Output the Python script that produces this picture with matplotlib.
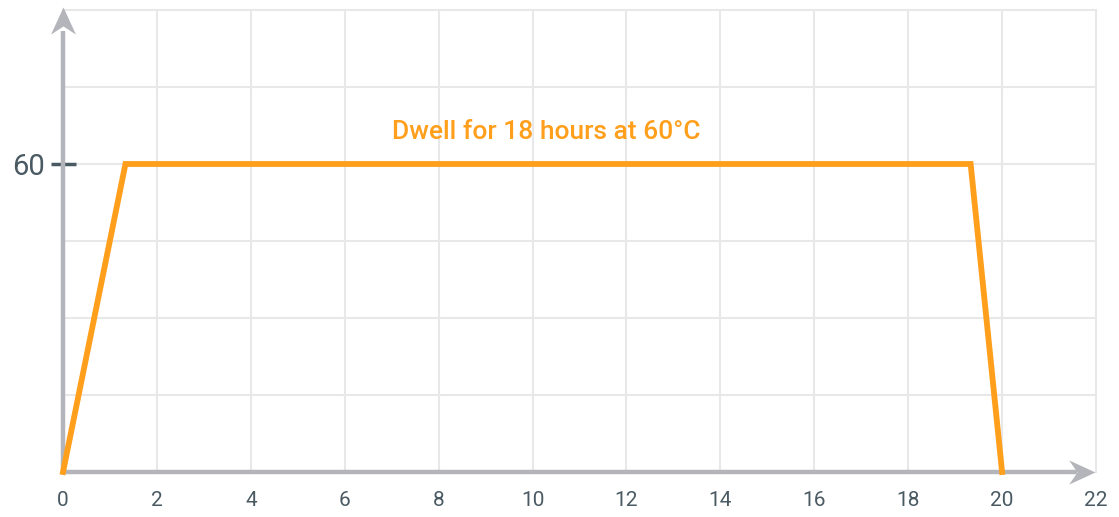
import matplotlib
matplotlib.use("Agg")
import matplotlib.pyplot as plt
from matplotlib.path import Path

# temperature profile: hours vs degrees C
hours = [0, 1.33, 19.33, 20]
temps = [0, 60, 60, 0]

x_ticks = [0, 2, 4, 6, 8, 10, 12, 14, 16, 18, 20, 22]
y_grid = [15, 30, 45, 60, 75, 90]
y_ticks = [60]
label = "Dwell for 18 hours at 60°C"

orange = "#ff9f1c"
axis_gray = "#b3b5ba"
text_dark = "#4a5a63"

plt.rcParams['font.family'] = ['Roboto', 'DejaVu Sans']

fig = plt.figure(figsize=(11.19, 5.17), dpi=100)
ax = fig.add_axes([63 / 1119, 45 / 517, 1033 / 1119, 462 / 517])
ax.set_xlim(0, 22)
ax.set_ylim(0, 90)

for s in ax.spines.values():
    s.set_visible(False)

# grid
for x in x_ticks[1:]:
    ax.plot([x, x], [0, 90], color="#e8e8e8", lw=1.5, zorder=1, clip_on=False)
for y in y_grid:
    ax.plot([0, 22], [y, y], color="#e8e8e8", lw=1.5, zorder=1, clip_on=False)

# notched arrow heads (tip at origin)
head_right = Path([(0, 0), (-1, 0.46), (-0.68, 0), (-1, -0.46), (0, 0)],
                  [Path.MOVETO, Path.LINETO, Path.LINETO, Path.LINETO, Path.CLOSEPOLY])
head_up = Path([(0, 0), (0.46, -1), (0, -0.7), (-0.46, -1), (0, 0)],
               [Path.MOVETO, Path.LINETO, Path.LINETO, Path.LINETO, Path.CLOSEPOLY])

ax.plot([0, 21.6], [0, 0], color=axis_gray, lw=3.2, zorder=2, clip_on=False,
        solid_capstyle="butt")
ax.plot([0, 0], [0, 86], color=axis_gray, lw=3.2, zorder=2, clip_on=False,
        solid_capstyle="butt")
ax.plot([21.97], [0], marker=head_right, ms=38, color=axis_gray, mew=0,
        zorder=2, clip_on=False)
ax.plot([0], [90.5], marker=head_up, ms=39, color=axis_gray, mew=0,
        zorder=2, clip_on=False)

ax.plot(hours, temps, color=orange, lw=4.2, zorder=3, clip_on=False,
        solid_joinstyle="miter")

ax.text(10.3, 66.3, label, color=orange, fontsize=19, ha="center", va="center",
        fontweight="medium")

ax.set_xticks(x_ticks)
ax.set_xticklabels([str(v) for v in x_ticks])
ax.set_yticks(y_ticks)
ax.set_yticklabels([str(v) for v in y_ticks])
ax.tick_params(axis="x", length=0, pad=14, labelsize=15, labelcolor=text_dark)
ax.tick_params(axis="y", direction="inout", length=18, width=2.5, color=text_dark,
               pad=4, labelsize=21, labelcolor=text_dark)

fig.savefig("out.png", dpi=100)
